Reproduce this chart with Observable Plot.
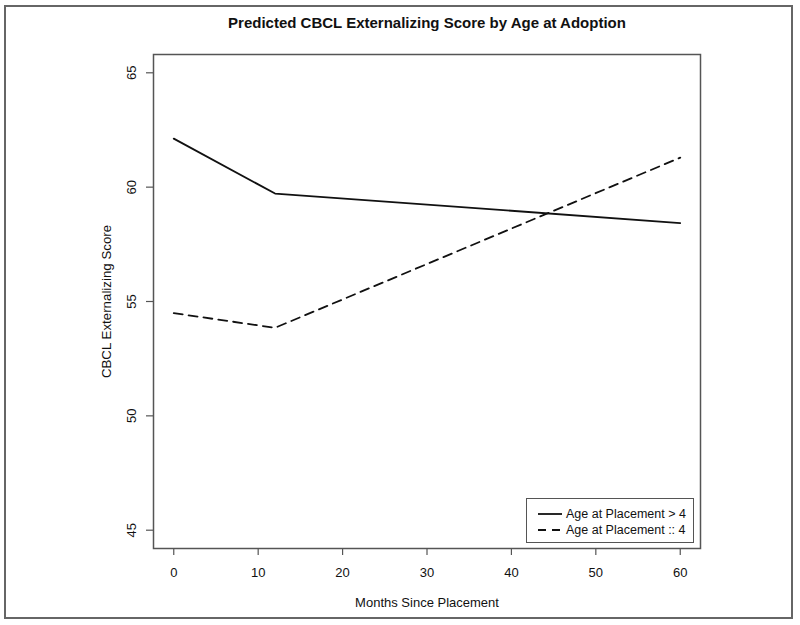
<!DOCTYPE html>
<html>
<head>
<meta charset="utf-8">
<script src="https://cdn.jsdelivr.net/npm/d3@7"></script>
<script src="https://cdn.jsdelivr.net/npm/@observablehq/plot@0.6"></script>
<style>
  html, body { margin: 0; padding: 0; background: #fff; }
  #wrap { position: relative; width: 800px; height: 625px; overflow: hidden; font-family: "Liberation Sans", Arial, Helvetica, sans-serif; }
  #border { position: absolute; left: 4px; top: 5px; width: 789px; height: 614px; border: 2px solid #666; box-sizing: border-box; pointer-events: none; }
  #chart { position: absolute; left: 0; top: 0; }
  #legend { position: absolute; left: 526px; top: 498px; width: 168px; height: 45px; border: 1px solid #555; box-sizing: border-box; background: #fff; font-size: 12.5px; color: #111; }
  .row { position: absolute; left: 10px; height: 16px; display: flex; align-items: center; }
  .row svg { margin-right: 3px; }
</style>
</head>
<body>
<div id="wrap">
  <div id="chart"></div>
  <div id="legend"></div>
  <div id="border"></div>
</div>
<script>
const months = [0, 12, 60];
const olderScores = [62.12, 59.72, 58.43];   // Age at Placement > 4
const youngerScores = [54.49, 53.85, 61.29]; // Age at Placement :: 4
const seriesNames = ["Age at Placement > 4", "Age at Placement :: 4"];
const xTicks = [0, 10, 20, 30, 40, 50, 60];
const yTicks = [45, 50, 55, 60, 65];
const titleText = "Predicted CBCL Externalizing Score by Age at Adoption";
const xLabel = "Months Since Placement";
const yLabel = "CBCL Externalizing Score";

const older = months.map((m, i) => ({month: m, score: olderScores[i]}));
const younger = months.map((m, i) => ({month: m, score: youngerScores[i]}));

const font = "'Liberation Sans', Arial, Helvetica, sans-serif";
const plot = Plot.plot({
  width: 800,
  height: 625,
  marginLeft: 153,
  marginRight: 100,
  marginTop: 54,
  marginBottom: 77,
  style: {fontFamily: font, background: "white", color: "#111"},
  x: {domain: [-2.4, 62.4]},
  y: {domain: [44.2, 65.8]},
  marks: [
    Plot.frame({stroke: "#555", strokeWidth: 1.5}),
    Plot.axisX({ticks: xTicks, tickSize: 7, tickFormat: () => "", label: null, stroke: "#555", strokeWidth: 1.2}),
    Plot.axisY({ticks: yTicks, tickSize: 7, tickFormat: () => "", label: null, stroke: "#555", strokeWidth: 1.2}),
    Plot.text(xTicks, {x: d => d, text: d => String(d), frameAnchor: "bottom", dy: 24, lineAnchor: "middle", textAnchor: "middle", fontSize: 13, fill: "#111"}),
    Plot.text(yTicks, {y: d => d, text: d => String(d), frameAnchor: "left", dx: -22, rotate: -90, lineAnchor: "middle", textAnchor: "middle", fontSize: 13, fill: "#111"}),
    Plot.text([xLabel], {text: d => d, frameAnchor: "bottom", dy: 54, lineAnchor: "middle", textAnchor: "middle", fontSize: 13, fill: "#111"}),
    Plot.text([yLabel], {text: d => d, frameAnchor: "left", dx: -47, rotate: -90, lineAnchor: "middle", textAnchor: "middle", fontSize: 13.3, fill: "#111"}),
    Plot.text([titleText], {text: d => d, frameAnchor: "top", dy: -31, lineAnchor: "middle", textAnchor: "middle", fontSize: 15, fontWeight: "bold", fill: "#111"}),
    Plot.line(older, {x: "month", y: "score", stroke: "#111", strokeWidth: 1.8}),
    Plot.line(younger, {x: "month", y: "score", stroke: "#111", strokeWidth: 1.8, strokeDasharray: "9,6"})
  ]
});
document.getElementById("chart").appendChild(plot);

const legend = document.getElementById("legend");
const dashes = [null, "8,6"];
seriesNames.forEach((name, i) => {
  const row = document.createElement("div");
  row.className = "row";
  row.style.top = (7 + i * 16) + "px";
  row.innerHTML = `<svg width="26" height="10"><line x1="1" y1="5" x2="25" y2="5" stroke="#111" stroke-width="1.8" ${dashes[i] ? `stroke-dasharray="${dashes[i]}"` : ""}/></svg><span>${name.replace(/>/g, "&gt;")}</span>`;
  legend.appendChild(row);
});
</script>
</body>
</html>
